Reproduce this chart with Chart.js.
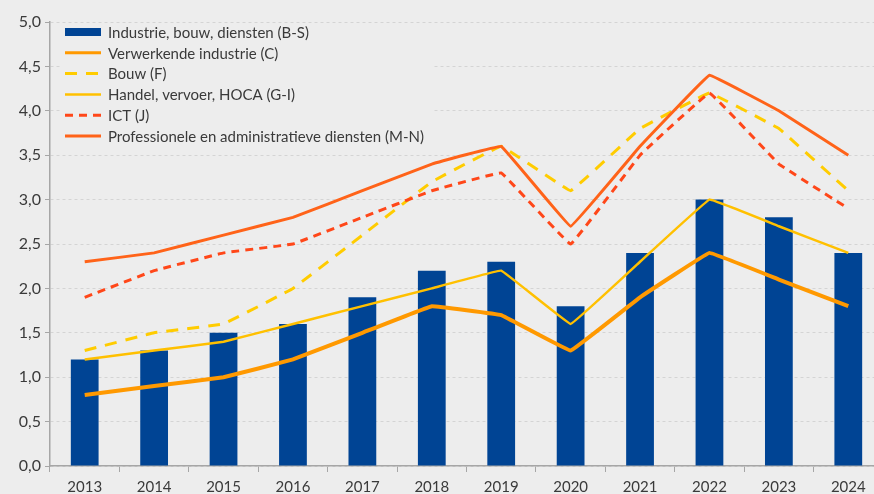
<!DOCTYPE html>
<html>
<head>
<meta charset="utf-8">
<script src="https://cdn.jsdelivr.net/npm/chart.js@4"></script>
<style>
  body { margin: 0; background: #ededed; overflow: hidden; }
  canvas { display: block; }
</style>
</head>
<body>
<canvas id="groeiChart" width="884" height="494"></canvas>
<script>
const jaren = ['2013', '2014', '2015', '2016', '2017', '2018', '2019', '2020', '2021', '2022', '2023', '2024'];

const industrieBS   = [1.2, 1.3, 1.5, 1.6, 1.9, 2.2, 2.3, 1.8, 2.4, 3.0, 2.8, 2.4];
const verwerkendeC  = [0.8, 0.9, 1.0, 1.2, 1.5, 1.8, 1.7, 1.3, 1.9, 2.4, 2.1, 1.8];
const bouwF         = [1.3, 1.5, 1.6, 2.0, 2.6, 3.2, 3.6, 3.1, 3.8, 4.2, 3.8, 3.1];
const handelGI      = [1.2, 1.3, 1.4, 1.6, 1.8, 2.0, 2.2, 1.6, 2.3, 3.0, 2.7, 2.4];
const ictJ          = [1.9, 2.2, 2.4, 2.5, 2.8, 3.1, 3.3, 2.5, 3.5, 4.2, 3.4, 2.9];
const professioneel = [2.3, 2.4, 2.6, 2.8, 3.1, 3.4, 3.6, 2.7, 3.6, 4.4, 4.0, 3.5];

const FONT = 'Lato, "Liberation Sans", sans-serif';
const TEKST = '#3a3a3a';

// legende binnen het plotvlak, linksboven
const legendeBinnen = {
    id: 'legendeBinnen',
    afterDatasetsDraw(chart) {
        const ctx = chart.ctx;
        const sets = chart.data.datasets;
        ctx.save();
        ctx.fillStyle = '#ededed';
        ctx.fillRect(62, 24, 372, 122);
        ctx.font = '15px ' + FONT;
        ctx.textBaseline = 'middle';
        sets.forEach(function(ds, i) {
            const y = 32 + i * 20.8;
            if (ds.type === 'bar') {
                ctx.fillStyle = ds.backgroundColor;
                ctx.fillRect(65, y - 4, 36, 8);
            } else {
                ctx.strokeStyle = ds.borderColor;
                ctx.lineWidth = Math.min(ds.borderWidth, 3);
                ctx.setLineDash(ds.borderDash || []);
                ctx.beginPath();
                ctx.moveTo(65, y);
                ctx.lineTo(101, y);
                ctx.stroke();
                ctx.setLineDash([]);
            }
            ctx.fillStyle = TEKST;
            ctx.fillText(ds.label, 108, y + 1);
        });
        ctx.restore();
    }
};

function lijn(label, data, kleur, breedte, streep, volgorde) {
    return {
        type: 'line',
        label: label,
        data: data,
        borderColor: kleur,
        backgroundColor: kleur,
        borderWidth: breedte,
        borderDash: streep,
        pointRadius: 0,
        tension: 0.04,
        fill: false,
        order: volgorde
    };
}

new Chart(document.getElementById('groeiChart').getContext('2d'), {
    data: {
        labels: jaren,
        datasets: [
            {
                type: 'bar',
                label: 'Industrie, bouw, diensten (B-S)',
                data: industrieBS,
                backgroundColor: '#004494',
                barPercentage: 0.4,
                categoryPercentage: 1,
                order: 10
            },
            lijn('Verwerkende industrie (C)', verwerkendeC, '#ff9900', 4, [], 5),
            lijn('Bouw (F)', bouwF, '#ffcc00', 3, [12, 9], 4),
            lijn('Handel, vervoer, HOCA (G-I)', handelGI, '#ffc000', 2.5, [], 3),
            lijn('ICT (J)', ictJ, '#ff4719', 3, [8, 6], 2),
            lijn('Professionele en administratieve diensten (M-N)', professioneel, '#ff6319', 3, [], 1)
        ]
    },
    options: {
        responsive: false,
        animation: false,
        layout: { padding: { left: 0, right: 1, top: 22, bottom: 0 } },
        plugins: {
            legend: { display: false },
            tooltip: { enabled: false }
        },
        scales: {
            x: {
                grid: {
                    offset: true,
                    drawOnChartArea: false,
                    drawTicks: true,
                    tickLength: 6,
                    tickColor: '#a6a6a6'
                },
                border: { color: '#a6a6a6', width: 1.5 },
                ticks: {
                    color: TEKST,
                    padding: 6,
                    font: { family: FONT, size: 15 },
                    maxRotation: 0
                },
                afterFit(scale) { scale.height = 28; }
            },
            y: {
                min: 0,
                max: 5,
                ticks: {
                    stepSize: 0.5,
                    color: TEKST,
                    padding: 4,
                    font: { family: FONT, size: 16 },
                    callback: function(v) { return v.toFixed(1).replace('.', ','); }
                },
                grid: {
                    color: '#d4d4d4',
                    tickColor: '#a6a6a6',
                    tickLength: 5,
                    tickBorderDash: []
                },
                border: { color: '#a6a6a6', width: 1.5, dash: [3, 3] },
                afterFit(scale) { scale.width = 50; }
            }
        }
    },
    plugins: [legendeBinnen]
});
</script>
</body>
</html>
